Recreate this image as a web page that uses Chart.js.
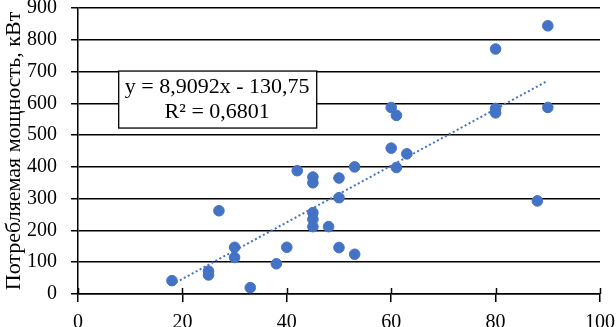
<!DOCTYPE html>
<html><head><meta charset="utf-8">
<script src="https://cdn.jsdelivr.net/npm/chart.js@4/dist/chart.umd.min.js"></script>
<style>html,body{margin:0;padding:0;background:#fff}#wrap{width:616px;height:327px;position:relative}</style>
</head><body><div id="wrap"><canvas id="c" width="616" height="327"></canvas></div>
<script>
const xValues = [18,25,25,27,30,30,33,38,40,42,45,45,45,45,45,48,50,50,50,53,53,60,60,61,61,63,80,80,80,88,90,90];
const yValues = [42,72,60,262,147,115,20,95,147,388,368,350,256,235,212,212,365,303,146,400,125,587,459,562,398,441,771,584,570,293,844,587];
const slope = 8.9092, intercept = -130.75;
const trendRange = [18, 90];
const equationLines = ['y = 8,9092x - 130,75', 'R² = 0,6801'];
const yTitle = 'Потребляемая мощность, кВт';
const xTicks = [0,20,40,60,80,100];
const yTicks = [0,100,200,300,400,500,600,700,800,900];

const FONT = "'Liberation Serif', 'Times New Roman', serif";
const BLUE = '#4472C4';

const points = xValues.map((x,i)=>({x, y:yValues[i]}));
const trend = trendRange.map(x=>({x, y: slope*x+intercept}));

const boxPlugin = {
  id:'eqbox',
  afterDatasetsDraw(chart){
    const {ctx, scales:{x,y}} = chart;
    ctx.save();
    ctx.strokeStyle='#000'; ctx.lineWidth=1.5;
    xTicks.forEach(v=>{
      const px = Math.round(x.getPixelForValue(v))+0.5;
      const py = y.getPixelForValue(0);
      ctx.beginPath(); ctx.moveTo(px, py-6); ctx.lineTo(px, py); ctx.stroke();
    });
    const left = x.getPixelForValue(7.7), top = y.getPixelForValue(700)-1;
    const w = 198, h = 57;
    ctx.fillStyle='#fff'; ctx.fillRect(left, top, w, h);
    ctx.strokeStyle='#000'; ctx.lineWidth=1.3; ctx.strokeRect(left+0.5, top+0.5, w, h);
    ctx.fillStyle='#000'; ctx.font = '22px ' + FONT; ctx.textAlign='center'; ctx.textBaseline='middle';
    ctx.fillText(equationLines[0], left+w/2, top+17);
    ctx.fillText(equationLines[1], left+w/2, top+42);
    ctx.restore();
  }
};

new Chart(document.getElementById('c'), {
  type:'scatter',
  data:{datasets:[
    {label:'data', data:points, backgroundColor:BLUE, borderColor:BLUE, pointRadius:5.3, pointHoverRadius:5.3, order:1},
    {label:'trend', type:'line', data:trend, borderColor:BLUE, borderWidth:2, borderDash:[2,2.5], pointRadius:0, fill:false, showLine:true, order:2}
  ]},
  options:{
    responsive:false, animation:false, devicePixelRatio:1,
    layout:{padding:{top:0,right:16,left:0,bottom:0}},
    plugins:{legend:{display:false}, tooltip:{enabled:false}},
    scales:{
      x:{type:'linear', min:0, max:100,
        afterBuildTicks(s){ s.ticks = xTicks.map(v=>({value:v})); },
        afterFit(s){ s.height = 33; s.paddingLeft = 0; s.paddingRight = 0; },
        grid:{drawOnChartArea:false, drawTicks:true, tickLength:8, color:'#000', lineWidth:1.5},
        border:{color:'#000', width:1.5},
        ticks:{font:{family:FONT, size:20}, color:'#000', padding:9, maxRotation:0}
      },
      y:{type:'linear', min:0, max:900,
        afterBuildTicks(s){ s.ticks = yTicks.map(v=>({value:v})); },
        afterFit(s){ s.width = 78; s.paddingTop = 8; s.paddingBottom = 0; },
        grid:{drawOnChartArea:true, drawTicks:true, tickLength:7, color:'#000', lineWidth:1.5},
        border:{color:'#000', width:1.5},
        ticks:{font:{family:FONT, size:20}, color:'#000', padding:14},
        title:{display:true, text:yTitle, font:{family:FONT, size:22}, color:'#000', padding:{top:1,bottom:0}}
      }
    }
  },
  plugins:[boxPlugin]
});
</script></body></html>
